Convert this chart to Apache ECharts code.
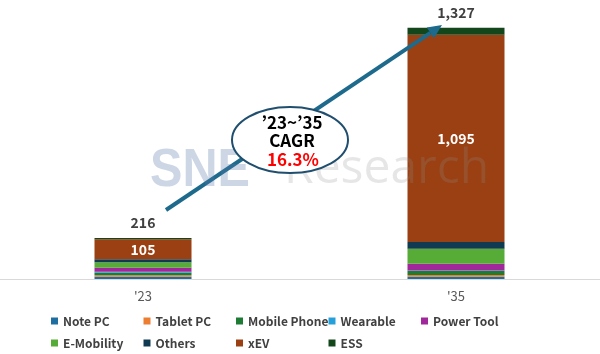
<!DOCTYPE html>
<html>
<head>
<meta charset="utf-8">
<script src="https://cdn.jsdelivr.net/npm/echarts@6/dist/echarts.min.js"></script>
<style>
  html, body { margin: 0; padding: 0; background: #fff; }
  #chart { width: 600px; height: 354px; }
</style>
</head>
<body>
<div id="chart"></div>
<script>
// categories and stacked values (bottom to top)
const years = ["'23", "'35"];
const notePc = [12, 12];
const tabletPc = [8, 9];
const mobilePhone = [13, 21];
const wearable = [5, 3];
const powerTool = [22, 35];
const eMobility = [29, 80];
const others = [16, 35];
const xev = [105, 1095];
const ess = [6, 37];
const totals = [216, 1327];

const names = ['Note PC', 'Tablet PC', 'Mobile Phone', 'Wearable', 'Power Tool',
  'E-Mobility', 'Others', 'xEV', 'ESS'];
const values = [notePc, tabletPc, mobilePhone, wearable, powerTool, eMobility, others, xev, ess];
const colors = ['#1f6ea0', '#ed7d31', '#1e7b34', '#26a0da', '#a0289b',
  '#57ab37', '#0f3a52', '#9a4013', '#14461c'];

const fontFamily = '"Noto Sans CJK KR", "Noto Sans", sans-serif';
const fmt = v => Number(v).toLocaleString('en-US');

const chart = echarts.init(document.getElementById('chart'));

// bars sit on the grid edges (boundaryGap false), so they must not be clipped
const series = names.map((name, i) => {
  const s = {
    name: name,
    type: 'bar',
    stack: 'total',
    barWidth: 97,
    clip: false,
    data: values[i],
    itemStyle: { color: colors[i] },
    emphasis: { disabled: true }
  };
  if (name === 'xEV') {
    s.label = {
      show: true,
      position: 'inside',
      color: '#fff',
      fontWeight: 'bold',
      fontSize: 14,
      fontFamily: fontFamily,
      formatter: p => fmt(p.value)
    };
  }
  if (name === 'ESS') {
    s.label = {
      show: true,
      position: 'top',
      distance: 8,
      color: '#404040',
      fontWeight: 'bold',
      fontSize: 14,
      fontFamily: fontFamily,
      formatter: p => fmt(totals[p.dataIndex])
    };
  }
  return s;
});

// one legend per item so the columns line up like the original
const legends = names.map((name, i) => ({
  data: [name],
  left: 51 + (i % 5) * 92.5,
  top: i < 5 ? 315 : 337,
  padding: 0,
  icon: 'rect',
  itemWidth: 7,
  itemHeight: 7,
  itemGap: 0,
  textStyle: {
    color: '#404040',
    fontWeight: 'bold',
    fontSize: 12,
    fontFamily: fontFamily
  }
}));

// arrow geometry (annotation)
const tip = [442, 25];
const start = [166, 210];
const ang = Math.atan2(tip[1] - start[1], tip[0] - start[0]);
const ux = Math.cos(ang), uy = Math.sin(ang);
const headLen = 14, headHalf = 6.5;
const base = [tip[0] - ux * headLen, tip[1] - uy * headLen];

const option = {
  backgroundColor: '#fff',
  animation: false,
  textStyle: { fontFamily: fontFamily },
  grid: [
    { left: 143, right: 144, top: 14, bottom: 75 },
    { left: 0, right: 0, top: 14, bottom: 75 }
  ],
  legend: legends,
  xAxis: [
    {
      type: 'category',
      gridIndex: 0,
      data: years,
      boundaryGap: false,
      axisLine: { show: false },
      axisTick: { show: false },
      axisLabel: { color: '#595959', fontSize: 13, margin: 11, fontFamily: fontFamily }
    },
    {
      // full-width base line
      type: 'value',
      gridIndex: 1,
      min: 0,
      max: 1,
      splitLine: { show: false },
      axisLine: { show: true, lineStyle: { color: '#d9d9d9', width: 1 } },
      axisTick: { show: false },
      axisLabel: { show: false }
    }
  ],
  yAxis: [
    { type: 'value', gridIndex: 0, min: 0, max: 1400, show: false, splitLine: { show: false } },
    { type: 'value', gridIndex: 1, min: 0, max: 1, show: false, splitLine: { show: false } }
  ],
  series: series,
  graphic: [
    // arrow
    {
      type: 'line', z: 50,
      shape: { x1: start[0], y1: start[1], x2: base[0], y2: base[1] },
      style: { stroke: '#1d6a8c', lineWidth: 4 }
    },
    {
      type: 'polygon', z: 50,
      shape: {
        points: [
          tip,
          [base[0] - uy * headHalf, base[1] + ux * headHalf],
          [base[0] + uy * headHalf, base[1] - ux * headHalf]
        ]
      },
      style: { fill: '#1d6a8c' }
    },
    // watermark, semi transparent over the bars
    {
      type: 'text', z: 55, left: 150, top: 144, scaleX: 0.9,
      style: { text: 'SNE', fill: 'rgba(90,120,170,0.3)', font: 'bold 54px "Liberation Sans", sans-serif' }
    },
    {
      type: 'text', z: 55, left: 284, top: 145,
      style: { text: 'Research', fill: 'rgba(140,140,140,0.22)', font: '48px "Open Sans", sans-serif' }
    },
    // CAGR ellipse
    {
      type: 'ellipse', z: 60,
      shape: { cx: 290, cy: 140, rx: 58, ry: 33 },
      style: { fill: '#fff', stroke: '#1f4e6e', lineWidth: 2 }
    },
    {
      type: 'text', z: 61, x: 292, y: 123,
      style: { text: '\u201923~\u201935', fill: '#000', font: 'bold 17px ' + fontFamily, align: 'center', verticalAlign: 'middle' }
    },
    {
      type: 'text', z: 61, x: 292, y: 141,
      style: { text: 'CAGR', fill: '#000', font: 'bold 17px ' + fontFamily, align: 'center', verticalAlign: 'middle' }
    },
    {
      type: 'text', z: 61, x: 293, y: 160,
      style: { text: '16.3%', fill: '#ff0000', font: 'bold 17px ' + fontFamily, align: 'center', verticalAlign: 'middle' }
    }
  ]
};

chart.setOption(option);
</script>
</body>
</html>
